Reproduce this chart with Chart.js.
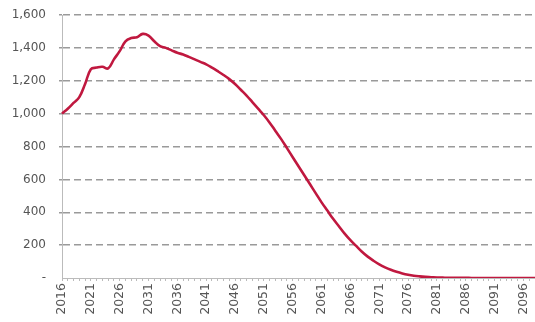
<!DOCTYPE html>
<html>
<head>
<meta charset="utf-8">
<script src="https://cdn.jsdelivr.net/npm/chart.js@4"></script>
<style>
  html, body { margin: 0; padding: 0; background: #fff; }
  #wrap { width: 535px; height: 322px; position: relative; }
</style>
</head>
<body>
<div id="wrap"><canvas id="popChart"></canvas></div>
<script>
// years 2016 - 2098
const years = [];
for (let y = 2016; y <= 2098; y++) years.push(String(y));

// values
const population = [
    1000, 1030, 1065, 1100, 1180, 1270, 1280, 1285, 1275, 1330,
    1380, 1440, 1460, 1465, 1485, 1475, 1440, 1410, 1400, 1385,
    1370, 1360, 1345, 1330, 1315, 1300, 1280, 1258, 1235, 1210,
    1180, 1145, 1110, 1070, 1030, 990, 945, 895, 845, 790,
    735, 680, 625, 570, 515, 460, 410, 360, 315, 270,
    230, 195, 160, 130, 105, 83, 65, 50, 38, 28,
    20, 14, 10, 7, 5, 3, 2, 1, 1, 1,
    1, 0, 0, 0, 0, 0, 0, 0, 0, 0,
    0, 0, 0
];

const yTicks = [0, 200, 400, 600, 800, 1000, 1200, 1400, 1600];

document.addEventListener('DOMContentLoaded', function() {
    const ctx = document.getElementById('popChart').getContext('2d');

    new Chart(ctx, {
        type: 'line',
        data: {
            labels: years,
            datasets: [{
                data: population,
                borderColor: '#C0183F',
                borderWidth: 2.6,
                pointRadius: 0,
                tension: 0.4,
                fill: false
            }]
        },
        options: {
            responsive: true,
            maintainAspectRatio: false,
            animation: false,
            layout: {
                padding: { left: 1, right: 0, top: 15, bottom: 0 }
            },
            scales: {
                x: {
                    offset: false,
                    afterFit: function(scale) {
                        scale.height = 44;
                        scale.paddingLeft = 0;
                        scale.paddingRight = 0;
                    },
                    grid: {
                        drawOnChartArea: false,
                        drawTicks: true,
                        tickLength: 3,
                        color: '#bbb'
                    },
                    border: { display: true, color: '#bbb', width: 1 },
                    ticks: {
                        autoSkip: false,
                        minRotation: 90,
                        maxRotation: 90,
                        padding: 2,
                        color: '#555',
                        font: { family: 'DejaVu Sans', size: 12.5 },
                        callback: function(value, index) {
                            const yr = Number(years[index]);
                            return (yr - 2016) % 5 === 0 ? String(yr) : '';
                        }
                    }
                },
                y: {
                    min: 0,
                    max: 1600,
                    afterFit: function(scale) {
                        scale.width = 61;
                        scale.paddingTop = 0;
                        scale.paddingBottom = 0;
                    },
                    afterBuildTicks: function(scale) {
                        scale.ticks = yTicks.map(v => ({ value: v }));
                    },
                    grid: {
                        color: function(c) {
                            return c.tick && c.tick.value === 0 ? 'rgba(0,0,0,0)' : '#9a9a9a';
                        },
                        lineWidth: 1.5,
                        drawTicks: true,
                        tickLength: 3
                    },
                    border: { display: true, color: '#bbb', width: 1, dash: [7, 4] },
                    ticks: {
                        padding: 13,
                        color: '#555',
                        font: { family: 'DejaVu Sans', size: 12 },
                        callback: function(value) {
                            return value === 0 ? '-' : value.toLocaleString('en-US');
                        }
                    }
                }
            },
            plugins: {
                legend: { display: false },
                tooltip: { enabled: false }
            }
        }
    });
});
</script>
</body>
</html>
